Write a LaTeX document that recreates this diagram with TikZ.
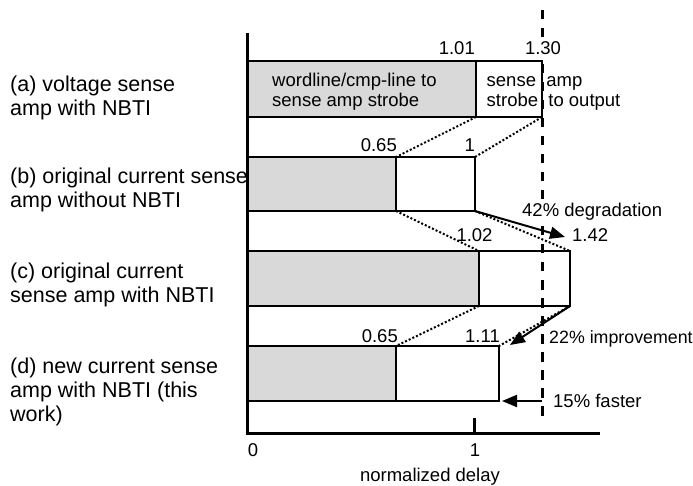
\documentclass[tikz,border=0pt]{standalone}
\usepackage{fontspec}
\setmainfont{Liberation Sans}
\usetikzlibrary{arrows.meta}
\begin{document}
\begin{tikzpicture}[x=1pt,y=-1pt,
  lbl/.style={anchor=base west,inner sep=0pt,font=\fontsize{21.5}{24}\selectfont},
  num/.style={inner sep=0pt,font=\fontsize{18.5}{20}\selectfont},
  bar/.style={draw=black,line width=2.3pt,anchor=north west,outer sep=0pt,inner sep=0pt},
  sbar/.style={bar,fill=black!15},
  wbar/.style={bar,fill=white},
  dotline/.style={line width=2pt,dash pattern=on 2pt off 2pt},
  axisline/.style={line width=3pt},
  dashline/.style={line width=3pt,dash pattern=on 9.5pt off 8.5pt},
  arr/.style={line width=2pt,-{Triangle[length=15pt,width=12pt]}},
  mask/.style={fill=white,inner sep=1pt}
]
\useasboundingbox (0,0) rectangle (693,486);

% left labels
\node[lbl] (la1) at (10,91.5) {(a) voltage sense};
\node[lbl] (la2) at (10,115.5) {amp with NBTI};
\node[lbl] (lb1) at (10,184) {(b) original current sense};
\node[lbl] (lb2) at (10,207.5) {amp without NBTI};
\node[lbl] (lc1) at (10,278.5) {(c) original current};
\node[lbl] (lc2) at (10,302.5) {sense amp with NBTI};
\node[lbl] (ld1) at (10,373) {(d) new current sense};
\node[lbl] (ld2) at (10,397) {amp with NBTI (this};
\node[lbl] (ld3) at (10,421) {work)};

% bars
\node[sbar,minimum width=229pt,minimum height=56pt] (a1) at (247,61) {};
\node[wbar,minimum width=66pt,minimum height=56pt] (a2) at (476,61) {};
\node[sbar,minimum width=149pt,minimum height=54pt] (b1) at (247,157) {};
\node[wbar,minimum width=79pt,minimum height=54pt] (b2) at (396,157) {};
\node[sbar,minimum width=232pt,minimum height=55pt] (c1) at (247,251) {};
\node[wbar,minimum width=91pt,minimum height=55pt] (c2) at (479,251) {};
\node[sbar,minimum width=149pt,minimum height=55pt] (d1) at (247,346) {};
\node[wbar,minimum width=103pt,minimum height=55pt] (d2) at (396,346) {};

% texts in bar (a)
\node[num,anchor=base west] (ta1) at (272,87) {wordline/cmp-line to};
\node[num,anchor=base west] (ta2) at (272,107) {sense amp strobe};
\node[num,anchor=base west] (tb1) at (486.5,87) {sense\ \ amp};
\node[num,anchor=base west] (tb2) at (486.5,107) {strobe\ \ to output};

% dotted connectors
\draw[dotline] (a1.south east) -- (b1.north east);
\draw[dotline] (a2.south east) -- (b2.north east);
\draw[dotline] (b1.south east) -- (c1.north east);
\draw[dotline] (b2.south east) -- (c2.north east);
\draw[dotline] (c1.south east) -- (d1.north east);
\draw[dotline] (c2.south east) -- (d2.north east);

% axes
\coordinate (o) at (247,433);
\coordinate (ytop) at (247,33);
\coordinate (xend) at (600,433);
\draw[axisline] (ytop) -- (o) -- (xend);
\coordinate (tick1) at (474,418);
\draw[axisline] (tick1) -- (tick1 |- o);

% dashed reference line
\coordinate (dtop) at (542,10);
\coordinate (dbot) at (542,418);
\draw[dashline] (dtop) -- (dbot);

% values
\node[num,anchor=base east] (v101) at (475,55) {1.01};
\node[num,mask,anchor=base] (v130) at (543,55) {1.30};
\node[num,anchor=base east] (vb065) at (397,152) {0.65};
\node[num,anchor=base east] (vb1) at (475,152) {1};
\node[num,anchor=base] (v102) at (474.5,242) {1.02};
\node[num,anchor=base west] (v142) at (572,242) {1.42};
\node[num,anchor=base east] (vd065) at (398,342) {0.65};
\node[num,anchor=base east] (v111) at (500,342) {1.11};

% arrows
\coordinate (deg) at (565,237);
\draw[arr] (b2.south east) -- (deg);
\node[num,mask,anchor=base west] (tdeg) at (521,217) {42\% degradation};
\coordinate (imp) at (510,345);
\draw[arr] (c2.south east) -- (imp);
\node[num,anchor=base west,font=\fontsize{17.8}{20}\selectfont] (timp) at (549,343) {22\% improvement};
\coordinate (fst) at (542,401);
\coordinate (fsttip) at (502,401);
\draw[arr] (fst) -- (fsttip);
\node[num,anchor=base west] (tfst) at (553,407) {15\% faster};

% axis labels
\node[num,anchor=base] (x0) at (253,456) {0};
\node[num,anchor=base] (x1) at (475,456) {1};
\node[num,anchor=base] (xlab) at (430,481) {normalized delay};
\end{tikzpicture}
\end{document}
